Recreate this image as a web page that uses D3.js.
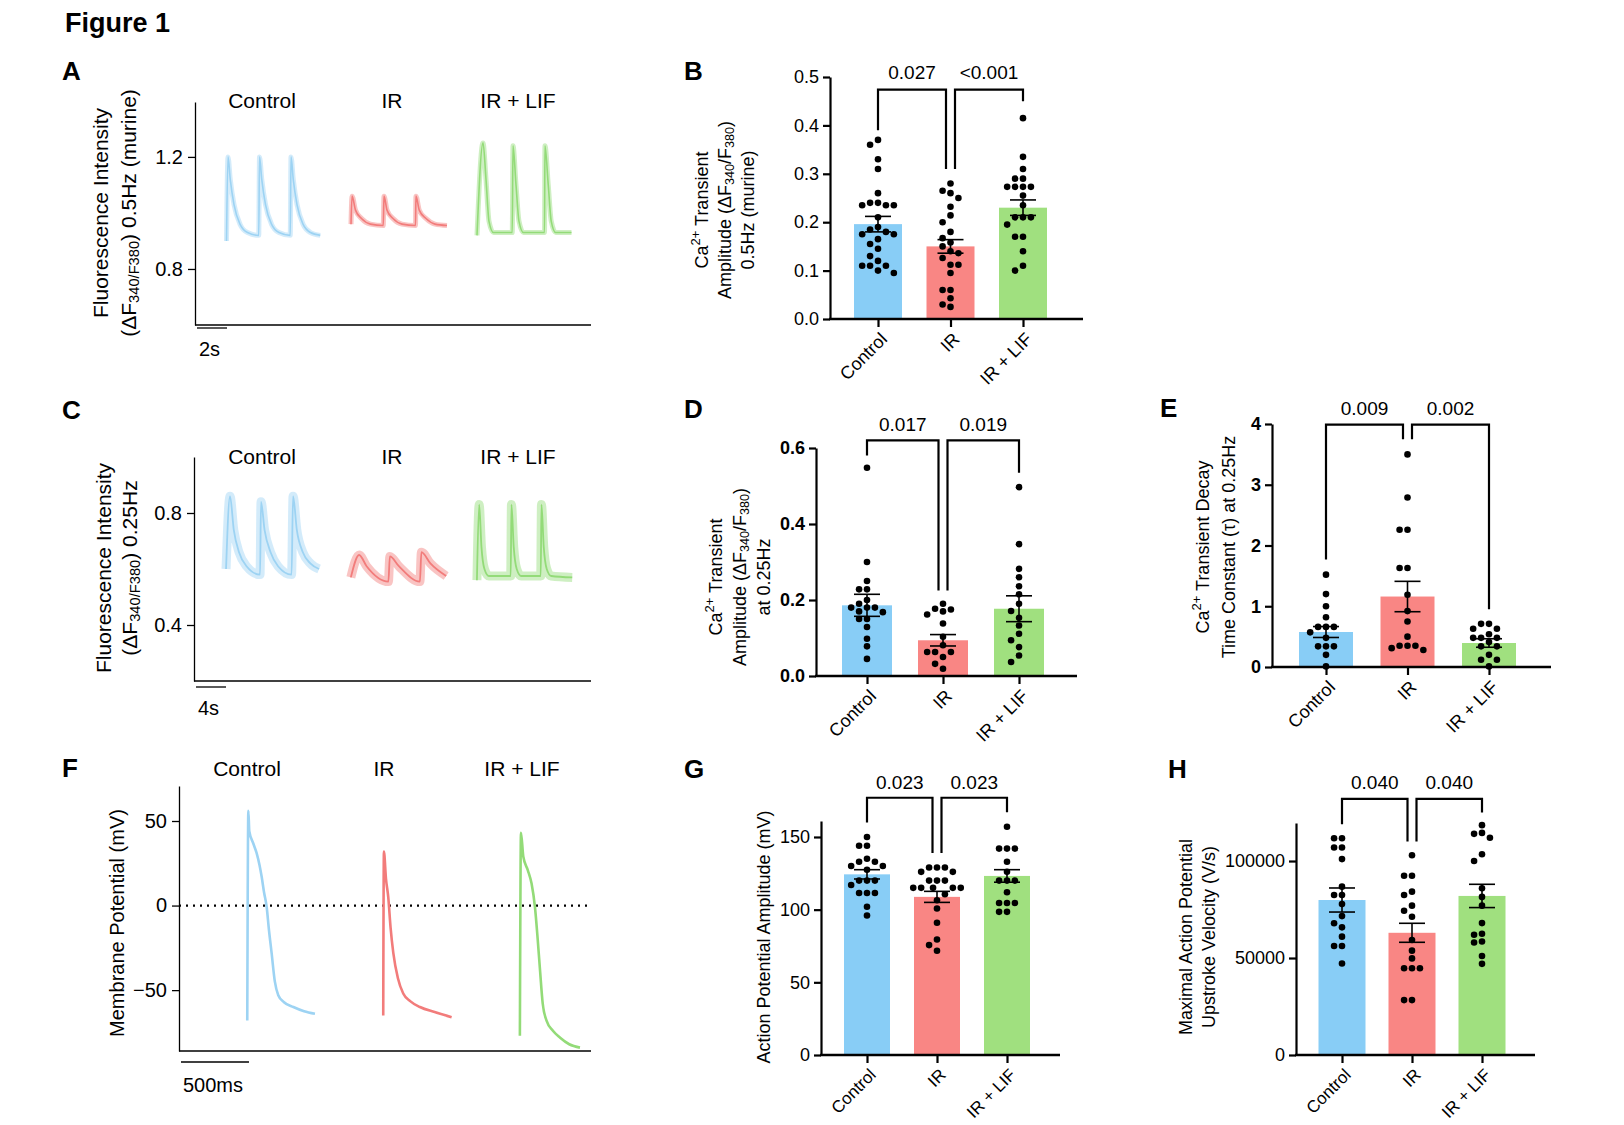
<!DOCTYPE html>
<html><head><meta charset="utf-8">
<script src="https://cdn.jsdelivr.net/npm/d3@7"></script>
<style>body{margin:0;background:#fff}svg text{font-family:"Liberation Sans",Arial,sans-serif}</style>
</head><body><svg id="fig" width="1624" height="1125"></svg>
<script>
const groups = ["Control", "IR", "IR + LIF"];
const barColors = ["#88CDF6", "#F98684", "#A0E07F"];
const traceColors = ["#9DD3F3", "#F27C7B", "#93DB78"];

// Panel A traces: [time s, ratio]
const traceA_ctrl = [[2.1,0.90],[2.2,1.20],[2.35,1.12],[2.6,1.03],[3.0,0.96],[3.5,0.93],[4.25,0.92],[4.3,1.20],[4.45,1.12],[4.7,1.03],[5.1,0.96],[5.6,0.93],[6.35,0.92],[6.4,1.20],[6.55,1.12],[6.8,1.03],[7.2,0.96],[7.7,0.93],[8.35,0.92]];
const traceA_ir = [[10.4,0.96],[10.47,1.06],[10.7,1.01],[11.1,0.98],[11.7,0.96],[12.55,0.955],[12.6,1.06],[12.8,1.01],[13.2,0.98],[13.8,0.96],[14.7,0.955],[14.73,1.06],[14.95,1.01],[15.4,0.98],[16.0,0.96],[16.8,0.955]];
const traceA_lif = [[18.8,0.92],[19.2,1.25],[19.4,1.12],[19.6,0.97],[19.9,0.93],[21.15,0.93],[21.2,1.24],[21.4,1.1],[21.6,0.97],[21.9,0.93],[23.3,0.93],[23.33,1.24],[23.55,1.1],[23.75,0.97],[24.05,0.93],[25.1,0.93]];
// Panel C traces
const traceC_ctrl = [[4.27,0.6],[4.8,0.86],[5.3,0.74],[6.0,0.66],[7.0,0.61],[8.8,0.58],[8.93,0.84],[9.4,0.74],[10.2,0.66],[11.2,0.61],[13.0,0.58],[13.2,0.86],[13.7,0.74],[14.5,0.66],[15.5,0.62],[16.67,0.6]];
const traceC_ir = [[20.9,0.57],[22.0,0.65],[23.0,0.61],[25.9,0.555],[26.1,0.645],[27.3,0.61],[30.1,0.555],[30.3,0.66],[31.5,0.62],[33.6,0.575]];
const traceC_lif = [[37.7,0.56],[38.0,0.83],[38.3,0.68],[38.7,0.6],[39.3,0.575],[42.2,0.575],[42.3,0.83],[42.6,0.68],[43.0,0.6],[43.6,0.575],[46.2,0.575],[46.3,0.83],[46.6,0.68],[47.0,0.6],[47.6,0.575],[50.4,0.57]];
// Panel F action potentials: [ms, mV]
const traceF_ctrl = [[502,-68],[510,56],[517,44],[545,37],[571,31],[592,24],[608,17],[625,8],[645,-1],[661,-14],[681,-28],[705,-45],[730,-53],[770,-57],[841,-60],[920,-62.5],[1000,-64]];
const traceF_ir = [[1502,-65],[1507,32],[1522,16],[1539,5],[1556,-13],[1576,-28],[1610,-43],[1649,-52],[1700,-56.5],[1772,-60],[1880,-63],[2005,-66]];
const traceF_lif = [[2507,-77],[2515,43],[2532,29],[2565,21],[2593,13],[2618,-1],[2638,-20],[2654,-37],[2675,-58],[2703,-68],[2750,-74],[2801,-78],[2870,-82],[2949,-84]];

// Bar panels: means, SEM, individual points
const B_mean = [0.196, 0.150, 0.230], B_sem = [0.016, 0.014, 0.016];
const B_ctrl = [0.36,0.37,0.33,0.31,0.26,0.24,0.235,0.235,0.235,0.24,0.21,0.19,0.185,0.18,0.175,0.175,0.165,0.155,0.145,0.13,0.12,0.11,0.11,0.11,0.1,0.095];
const B_ir = [0.28,0.265,0.26,0.25,0.232,0.214,0.2,0.18,0.167,0.158,0.15,0.14,0.136,0.126,0.112,0.112,0.095,0.06,0.06,0.043,0.03,0.025];
const B_lif = [0.415,0.335,0.31,0.29,0.29,0.273,0.273,0.273,0.273,0.255,0.235,0.21,0.21,0.21,0.195,0.17,0.17,0.14,0.11,0.1];
const B_p = ["0.027", "<0.001"];

const D_mean = [0.186, 0.094, 0.177], D_sem = [0.029, 0.015, 0.034];
const D_ctrl = [0.548,0.30,0.25,0.228,0.228,0.2,0.19,0.18,0.18,0.18,0.17,0.168,0.15,0.15,0.129,0.098,0.078,0.045];
const D_ir = [0.19,0.177,0.175,0.17,0.162,0.138,0.103,0.081,0.063,0.063,0.063,0.05,0.032,0.019];
const D_lif = [0.497,0.347,0.282,0.26,0.236,0.215,0.19,0.171,0.153,0.133,0.111,0.094,0.076,0.054,0.037];
const D_p = ["0.017", "0.019"];

const E_mean = [0.576, 1.16, 0.395], E_sem = [0.09, 0.25, 0.07];
const E_ctrl = [1.52,1.2,1.0,0.82,0.66,0.66,0.66,0.57,0.48,0.34,0.34,0.34,0.2,0.01];
const E_ir = [3.5,2.79,2.26,2.26,1.63,1.63,1.19,0.92,0.75,0.5,0.35,0.35,0.35,0.31,0.28];
const E_lif = [0.71,0.71,0.63,0.63,0.54,0.48,0.48,0.48,0.41,0.34,0.34,0.2,0.12,0.12,0.01];
const E_p = ["0.009", "0.002"];

const G_mean = [124.3, 108.8, 123.2], G_sem = [3.2, 3.8, 4.3];
const G_ctrl = [150,144,144,135,133,133,130,130,127.5,120,120,120,117,111.5,111.5,111.5,102,96];
const G_ir = [129,129,129,126,126,120,120,120,115,115,115,115,115,110.6,106.5,100.8,91,79.5,75.6,71.7];
const G_lif = [157,142,142,142,133,126,120,120,120,112,104.6,104.6,104.6,98.5,98.5];
const G_p = ["0.023", "0.023"];

const H_mean = [79900, 63000, 82000], H_sem = [6200, 4900, 6000];
const H_ctrl = [111700,111700,107000,107000,101000,86800,82500,82500,77800,71600,67900,65800,61000,56200,56200,47200];
const H_ir = [103000,92400,92400,84200,82500,77000,74400,71300,59300,53800,49800,44700,44700,44700,28300,28300];
const H_lif = [118500,114500,114000,112000,103500,100000,86000,81500,77000,68000,62500,62000,58500,58000,51000,47000];
const H_p = ["0.040", "0.040"];

const svg = d3.select("#fig");
const FONT = '"Liberation Sans",Arial,sans-serif';

function txt(x, y, s, o = {}) {
  return svg.append("text").attr("x", x).attr("y", y).attr("font-size", o.size || 20)
    .attr("font-weight", o.bold ? "bold" : null).attr("text-anchor", o.anchor || "start")
    .attr("dominant-baseline", "central").text(s);
}
function vlabel(x, y, parts, size) {
  const t = svg.append("text").attr("transform", `translate(${x},${y}) rotate(-90)`)
    .attr("text-anchor", "middle").attr("dominant-baseline", "central").attr("font-size", size);
  parts.forEach(([s, k]) => {
    const ts = t.append("tspan").text(s);
    if (k === "sub") ts.attr("font-size", size * 0.7).attr("dy", size * 0.3);
    if (k === "sup") ts.attr("font-size", size * 0.72).attr("dy", -size * 0.4);
    if (k === "back") ts.attr("dy", -size * 0.3);
    if (k === "back2") ts.attr("dy", size * 0.4);
  });
}

txt(65, 23, "Figure 1", { size: 27, bold: true });

function tracePanel(cfg) {
  const x = d3.scaleLinear().domain(cfg.xd).range([cfg.ax, cfg.axEnd]);
  const y = d3.scaleLinear().domain(cfg.yd).range([cfg.y0, cfg.yTop]);
  const g = svg.append("g");
  const ya = g.append("g").attr("transform", `translate(${cfg.ax},0)`)
    .call(d3.axisLeft(y).tickValues(cfg.ticks).tickSize(7).tickSizeOuter(0).tickFormat(cfg.fmt));
  ya.selectAll("text").attr("font-size", 20).attr("font-family", FONT).attr("fill", "#000").attr("dx", -2);
  ya.selectAll("path,line").attr("stroke", "#000").attr("stroke-width", 1.3);
  g.append("line").attr("x1", cfg.ax).attr("x2", cfg.axEnd).attr("y1", cfg.y0).attr("y2", cfg.y0)
    .attr("stroke", "#000").attr("stroke-width", 1.3);
  if (cfg.zero !== undefined) g.append("line").attr("x1", cfg.ax).attr("x2", cfg.axEnd)
    .attr("y1", y(cfg.zero)).attr("y2", y(cfg.zero)).attr("stroke", "#000").attr("stroke-width", 2.2)
    .attr("stroke-dasharray", "2,5");
  const line = d3.line().x(d => x(d[0])).y(d => y(d[1])).curve(d3.curveMonotoneX);
  cfg.traces.forEach((tr, i) => {
    if (cfg.halo) g.append("path").datum(tr).attr("d", line).attr("fill", "none").attr("stroke", traceColors[i])
      .attr("stroke-width", cfg.halo).attr("stroke-linejoin", "round").attr("opacity", 0.45);
    g.append("path").datum(tr).attr("d", line).attr("fill", "none").attr("stroke", traceColors[i])
      .attr("stroke-width", cfg.lw).attr("stroke-linejoin", "round");
  });
  const sb = cfg.scale;
  g.append("line").attr("x1", cfg.ax + 2).attr("x2", cfg.ax + 2 + x(sb.len) - x(0)).attr("y1", sb.y).attr("y2", sb.y)
    .attr("stroke", "#000").attr("stroke-width", 1.3);
  txt(cfg.ax + 4, sb.ty, sb.label, { size: 20 });
  cfg.glx.forEach((gx, i) => txt(gx, cfg.gly, groups[i], { size: 21, anchor: "middle" }));
  txt(cfg.letter[0], cfg.letter[1], cfg.letter[2], { size: 26, bold: true });
}

tracePanel({ ax: 195, axEnd: 591, xd: [0, 26.4], y0: 325, yTop: 102, yd: [0.6, 1.396],
  ticks: [0.8, 1.2], fmt: d3.format(".1f"), traces: [traceA_ctrl, traceA_ir, traceA_lif], lw: 1.6, halo: 5,
  scale: { len: 2, y: 328, ty: 349, label: "2s" }, glx: [262, 392, 518], gly: 100, letter: [62, 71, "A"] });
vlabel(100, 213, [["Fluorescence Intensity", "n"]], 21);
vlabel(128, 213, [["(ΔF", "n"], ["340/F380", "sub"], [") 0.5Hz (murine)", "back"]], 21);

tracePanel({ ax: 194, axEnd: 591, xd: [0, 52.9], y0: 681, yTop: 457, yd: [0.2, 1.0],
  ticks: [0.4, 0.8], fmt: d3.format(".1f"), traces: [traceC_ctrl, traceC_ir, traceC_lif], lw: 1.8, halo: 9,
  scale: { len: 4, y: 687, ty: 708, label: "4s" }, glx: [262, 392, 518], gly: 456, letter: [62, 410, "C"] });
vlabel(103, 568, [["Fluorescence Intensity", "n"]], 21);
vlabel(129, 568, [["(ΔF", "n"], ["340/F380", "sub"], [") 0.25Hz", "back"]], 21);

tracePanel({ ax: 179, axEnd: 591, xd: [0, 3030], y0: 1051, yTop: 786, yd: [-86, 70.7],
  ticks: [-50, 0, 50], fmt: d3.format("d"), traces: [traceF_ctrl, traceF_ir, traceF_lif], lw: 2.6, zero: 0,
  scale: { len: 500, y: 1062, ty: 1085, label: "500ms" }, glx: [247, 384, 522], gly: 768, letter: [62, 768, "F"] });
vlabel(117, 923, [["Membrane Potential (mV)", "n"]], 20);

function barPanel(cfg) {
  const y = d3.scaleLinear().domain([0, cfg.yMax]).range([cfg.y0, cfg.yTop]);
  const x = d3.scalePoint().domain(groups).range([cfg.c0, cfg.c2]);
  const g = svg.append("g");
  const r = 3.3;
  groups.forEach((k, i) => {
    const cx = x(k), m = cfg.mean[i], s = cfg.sem[i];
    g.append("rect").attr("x", cx - cfg.bw / 2).attr("width", cfg.bw).attr("y", y(m)).attr("height", y(0) - y(m))
      .attr("fill", barColors[i]);
    const placed = [];
    const vals = cfg.pts[i].slice().sort((a, b) => b - a);
    vals.forEach(v => {
      const py = y(v);
      const cands = [0, -2.4*r, 2.4*r, -4.8*r, 4.8*r, -7.2*r, 7.2*r, -1.2*r, 1.2*r, -3.6*r, 3.6*r, -6*r, 6*r];
      let off = 0;
      for (const c of cands) {
        if (placed.every(p => Math.hypot(p[0] - c, p[1] - py) >= 2.3 * r)) { off = c; break; }
      }
      placed.push([off, py]);
      g.append("circle").attr("cx", cx + off).attr("cy", py).attr("r", r).attr("fill", "#000");
    });
    const cw = 13;
    g.append("line").attr("x1", cx).attr("x2", cx).attr("y1", y(m - s)).attr("y2", y(m + s)).attr("stroke", "#000").attr("stroke-width", 1.6);
    [m - s, m + s].forEach(v => g.append("line").attr("x1", cx - cw).attr("x2", cx + cw).attr("y1", y(v)).attr("y2", y(v)).attr("stroke", "#000").attr("stroke-width", 1.6));
  });
  const ya = g.append("g").attr("transform", `translate(${cfg.ax},0)`)
    .call(d3.axisLeft(y).tickValues(cfg.ticks).tickSize(7).tickSizeOuter(0).tickFormat(cfg.fmt));
  ya.selectAll("text").attr("font-size", 18).attr("font-family", FONT).attr("fill", "#000")
    .attr("font-weight", cfg.bold ? "bold" : null).attr("dx", -1);
  ya.selectAll("path,line").attr("stroke", "#000").attr("stroke-width", 2.2);
  g.append("line").attr("x1", cfg.ax - 1).attr("x2", cfg.axEnd).attr("y1", cfg.y0).attr("y2", cfg.y0).attr("stroke", "#000").attr("stroke-width", 2.4);
  const xa = g.append("g").attr("transform", `translate(0,${cfg.y0})`)
    .call(d3.axisBottom(x).tickSize(8).tickSizeOuter(0).tickFormat(""));
  xa.select(".domain").remove();
  xa.selectAll("line").attr("stroke", "#000").attr("stroke-width", 2.2);
  groups.forEach(k => {
    g.append("text").attr("transform", `translate(${x(k) + 6},${cfg.y0 + 17}) rotate(-45)`)
      .attr("text-anchor", "end").attr("dominant-baseline", "central").attr("font-size", cfg.catSize || 18).text(k);
  });
  const bl = cfg.br;
  const xs = [x(groups[0]), x(groups[1]) - 4.5, x(groups[1]) + 4.5, x(groups[2])];
  [[0, 1, bl.l0, bl.l1], [2, 3, bl.l1, bl.l2]].forEach(([a, b, la, lb], j) => {
    g.append("path").attr("d", `M${xs[a]},${y(la)}V${y(bl.top)}H${xs[b]}V${y(lb)}`)
      .attr("fill", "none").attr("stroke", "#000").attr("stroke-width", 2.2);
    txt((xs[a] + xs[b]) / 2, cfg.py, cfg.p[j], { size: 19, anchor: "middle" });
  });
  txt(cfg.letter[0], cfg.letter[1], cfg.letter[2], { size: 26, bold: true });
}

barPanel({ ax: 830, axEnd: 1083, y0: 319, yTop: 77, yMax: 0.5, ticks: [0, 0.1, 0.2, 0.3, 0.4, 0.5], fmt: d3.format(".1f"),
  c0: 878, c2: 1023, bw: 48, mean: B_mean, sem: B_sem, pts: [B_ctrl, B_ir, B_lif],
  br: { top: 0.474, l0: 0.39, l1: 0.31, l2: 0.45 }, py: 72, p: B_p, letter: [684, 71, "B"] });
vlabel(702, 210, [["Ca", "n"], ["2+", "sup"], [" Transient", "back2"]], 18);
vlabel(725, 210, [["Amplitude (ΔF", "n"], ["340", "sub"], ["/F", "back"], ["380", "sub"], [")", "back"]], 18);
vlabel(748, 210, [["0.5Hz (murine)", "n"]], 18);

barPanel({ ax: 816, axEnd: 1077, y0: 676, yTop: 448, yMax: 0.6, ticks: [0, 0.2, 0.4, 0.6], fmt: d3.format(".1f"), bold: true,
  c0: 867, c2: 1019, bw: 50, mean: D_mean, sem: D_sem, pts: [D_ctrl, D_ir, D_lif],
  br: { top: 0.62, l0: 0.58, l1: 0.225, l2: 0.535 }, py: 424, p: D_p, letter: [684, 409, "D"] });
vlabel(716, 577, [["Ca", "n"], ["2+", "sup"], [" Transient", "back2"]], 18);
vlabel(740, 577, [["Amplitude (ΔF", "n"], ["340", "sub"], ["/F", "back"], ["380", "sub"], [")", "back"]], 18);
vlabel(764, 577, [["at 0.25Hz", "n"]], 18);

barPanel({ ax: 1272, axEnd: 1551, y0: 667, yTop: 424, yMax: 4, ticks: [0, 1, 2, 3, 4], fmt: d3.format("d"), bold: true,
  c0: 1326, c2: 1489, bw: 54, mean: E_mean, sem: E_sem, pts: [E_ctrl, E_ir, E_lif],
  br: { top: 3.99, l0: 1.77, l1: 3.75, l2: 0.95 }, py: 408, p: E_p, letter: [1160, 408, "E"] });
vlabel(1203, 547, [["Ca", "n"], ["2+", "sup"], [" Transient Decay", "back2"]], 18);
vlabel(1229, 547, [["Time Constant (τ) at 0.25Hz", "n"]], 18);

barPanel({ ax: 821, axEnd: 1060, y0: 1055, yTop: 821, yMax: 161, ticks: [0, 50, 100, 150], fmt: d3.format("d"),
  c0: 867, c2: 1007, bw: 46, mean: G_mean, sem: G_sem, pts: [G_ctrl, G_ir, G_lif], catSize: 17,
  br: { top: 177, l0: 160, l1: 139, l2: 167 }, py: 782, p: G_p, letter: [684, 769, "G"] });
vlabel(764, 937, [["Action Potential Amplitude (mV)", "n"]], 18);

barPanel({ ax: 1296, axEnd: 1535, y0: 1055, yTop: 823, yMax: 119600, ticks: [0, 50000, 100000], fmt: d3.format("d"),
  c0: 1342, c2: 1482, bw: 47, mean: H_mean, sem: H_sem, pts: [H_ctrl, H_ir, H_lif], catSize: 17,
  br: { top: 132000, l0: 119000, l1: 110000, l2: 125000 }, py: 782, p: H_p, letter: [1168, 769, "H"] });
vlabel(1186, 937, [["Maximal Action Potential", "n"]], 18);
vlabel(1209, 937, [["Upstroke Velocity (V/s)", "n"]], 18);
</script></body></html>
